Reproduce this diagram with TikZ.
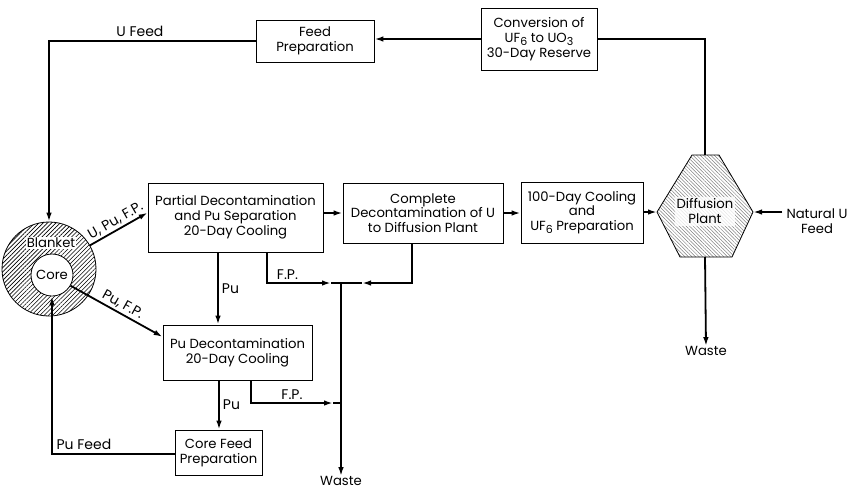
\documentclass[tikz,border=0pt]{standalone}
\usepackage{fontspec}
\setmainfont{Poppins}
\usetikzlibrary{arrows.meta,patterns.meta,calc}
\newcommand\lowsub[1]{\raisebox{-0.4ex}{\fontsize{11}{11}\selectfont #1}}
\begin{document}
\begin{tikzpicture}[x=1pt,y=-1pt,
  every node/.style={font=\fontsize{13.2}{14.8}\selectfont, inner sep=0pt},
  box/.style={draw, line width=0.7pt, align=center, fill=white},
  flow/.style={line width=1.8pt},
  arr/.style={flow, -{Latex[length=9pt,width=5.5pt]}},
  lbl/.style={font=\fontsize{14}{14}\selectfont}
]
\useasboundingbox (0,0) rectangle (856,491);

% boxes
\node[box, minimum width=118, minimum height=42] (feed) at (315,41) {Feed\\Preparation};
\node[box, minimum width=116, minimum height=62] (conv) at (539,39) {Conversion of\\UF\lowsub{6} to UO\lowsub{3}\\30-Day Reserve};
\node[box, minimum width=175, minimum height=69] (partial) at (235.5,217.5) {Partial Decontamination\\and Pu Separation\\20-Day Cooling};
\node[box, minimum width=160, minimum height=60] (complete) at (423,213) {Complete\\Decontamination of U\\to Diffusion Plant};
\node[box, minimum width=122, minimum height=61] (hundred) at (582,212.5) {100-Day Cooling\\and\\UF\lowsub{6} Preparation};
\node[box, minimum width=149, minimum height=55] (pudecon) at (237.5,352.5) {Pu Decontamination\\20-Day Cooling};
\node[box, minimum width=87, minimum height=45] (corefeed) at (218.5,452.5) {Core Feed\\Preparation};

% blanket and core
\node[circle, draw, line width=0.8pt, minimum size=94, pattern={Lines[angle=45,distance=3pt,line width=0.6pt]}] (blanket) at (49,269) {};
\node[circle, draw, line width=0.8pt, fill=white, minimum size=42] (core) at (52,275) {Core};
\node[fill=white, inner sep=1pt] (blanketlbl) at (51,243) {Blanket};

% diffusion plant
\coordinate (hexN) at (705,155);
\coordinate (hexW) at (657,212);
\coordinate (hexE) at (753,212);
\coordinate (hexS) at (705,257);
\draw[line width=0.8pt, pattern={Lines[angle=-45,distance=2.5pt,line width=0.5pt]}, pattern color=gray]
  (692,155) -- (719,155) -- (hexE) -- (732,257) -- (680,257) -- (hexW) -- cycle;
\node[fill=white, fill opacity=0.8, text opacity=1, align=center, inner sep=2pt] (diff) at (705,211) {Diffusion\\Plant};

% text nodes
\node[align=center] (natu) at (817,221) {Natural U\\Feed};
\node (waste1) at (706,351) {Waste};
\node (waste2) at (341,481) {Waste};

% top loop
\draw[arr] (conv.west) -- (feed.east |- conv.west);
\draw[flow] (conv.east) -| (hexN);
\draw[arr] (feed.west) -| node[lbl, pos=0.28, above=3pt] {U Feed} (blanket.north);

% blanket/core outputs
\draw[arr] (blanket.30) -- node[lbl, sloped, above=2pt, pos=0.52] {U, Pu, F.P.} ($(partial.north west)!0.43!(partial.south west)$);
\draw[arr] (core.-30) -- node[lbl, sloped, above=2pt, pos=0.52] {Pu, F.P.} ($(pudecon.north west)!0.22!(pudecon.south west)$);

% main chain
\draw[arr] (partial.east |- complete.west) -- (complete.west);
\draw[arr] (complete.east) -- (hundred.west |- complete.east);
\draw[arr] (hundred.east |- hexW) -- (hexW);
\draw[arr] (natu.west |- hexE) ++(-4,0) coordinate (natstart) -- (hexE);
\draw[arr] (hexS) -- (waste1.north);

% Pu lines
\draw[arr] (partial.south -| 218,0) -- node[lbl, right=3pt] {Pu} (pudecon.north -| 218,0);
\draw[arr] (pudecon.south -| 219,0) -- node[lbl, right=3pt] {Pu} (corefeed.north -| 219,0);
\draw[arr] (corefeed.west |- 0,454) -| node[lbl, pos=0.37, above=3pt] {Pu Feed} (core.south);

% waste collection
\coordinate (j1) at (341,283);
\coordinate (j2) at (341,403);
\coordinate (t1) at (331,283);
\coordinate (t2) at (362,283);
\coordinate (t3) at (333,403);
\draw[arr] (partial.south -| 267,0) |- node[lbl, pos=0.66, above=3pt] {F.P.} (t1);
\draw[flow] (t1) -- (j1);
\draw[arr] (complete.south -| 412,0) |- (t2);
\draw[flow] (t2) -- (j1);
\draw[arr] (pudecon.south -| 251,0) |- node[lbl, pos=0.75, above=3pt] {F.P.} (t3);
\draw[flow] (t3) -- (j2);
\draw[arr] (j1) -- (waste2.north);
\end{tikzpicture}
\end{document}
